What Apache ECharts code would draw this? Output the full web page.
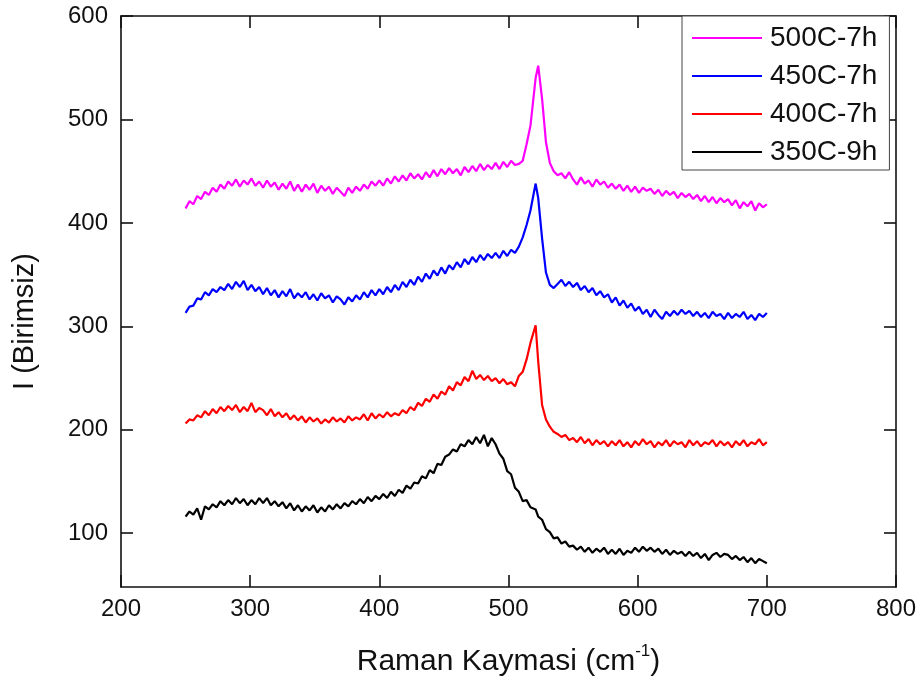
<!DOCTYPE html>
<html>
<head>
<meta charset="utf-8">
<script src="https://cdn.jsdelivr.net/npm/echarts@6/dist/echarts.min.js"></script>
<style>
html,body{margin:0;padding:0;background:#fff;}
#chart{width:923px;height:686px;}
</style>
</head>
<body>
<div id="chart"></div>
<script>
// Raman shift sample positions (cm^-1)
const ramanShift = [
250,253,256,259,262,265,268,271,274,277,
280,283,286,289,292,295,298,301,304,307,
310,313,316,319,322,325,328,331,334,337,
340,343,346,349,352,355,358,361,364,367,
370,373,376,379,382,385,388,391,394,397,
400,403,406,409,412,415,418,421,424,427,
430,433,436,439,442,445,448,451,454,457,
460,463,466,469,472,475,478,481,484,487,
490,493,496,499,502,505,508,511,514,517,
521,523,526,529,532,535,538,541,544,547,
550,553,556,559,562,565,568,571,574,577,
580,583,586,589,592,595,598,601,604,607,
610,613,616,619,622,625,628,631,634,637,
640,643,646,649,652,655,658,661,664,667,
670,673,676,679,682,685,688,691,694,697,
700
];

const s500C7h = [
414,421,418,426,423,430,427,434,430,437,
433,440,436,442,435,441,437,443,436,440,
434,441,435,439,432,438,433,440,431,437,
430,437,432,438,429,436,431,435,428,434,
430,426,434,429,435,431,437,433,440,436,
441,436,443,438,445,440,446,441,448,443,
447,442,449,444,451,445,452,447,453,448,
452,446,454,449,455,450,457,451,456,452,
458,452,459,454,460,456,457,460,476,494,
540,552,520,478,458,450,446,448,443,449,
442,437,444,438,441,435,442,437,440,434,
438,433,437,431,436,430,435,429,434,431,
433,428,432,426,431,427,430,424,429,425,
428,423,427,421,426,420,425,419,424,420,
423,417,422,414,420,416,421,412,419,415,
418
];

const s450C7h = [
313,319,320,327,326,333,330,336,333,338,
335,341,336,343,338,344,335,340,334,338,
331,337,330,335,328,334,329,336,327,332,
328,333,326,331,325,332,327,330,323,329,
326,321,328,324,330,326,333,328,335,330,
336,331,338,333,340,335,343,338,345,340,
348,343,351,346,354,349,357,351,359,355,
362,357,365,360,367,362,369,364,370,366,
371,366,373,368,374,371,377,386,398,412,
438,424,385,352,340,337,341,345,339,343,
338,342,335,339,333,337,330,334,328,331,
323,328,320,325,318,322,315,319,312,316,
309,316,311,307,314,310,315,311,316,312,
315,310,314,309,313,308,314,310,312,307,
313,308,312,309,314,307,311,306,312,309,
313
];

const s400C7h = [
206,210,209,214,212,218,214,220,216,222,
218,223,219,224,217,222,218,226,217,221,
219,214,220,213,217,212,216,210,214,209,
213,207,212,208,211,206,210,207,212,208,
211,207,213,209,212,210,215,209,216,211,
215,212,217,213,216,214,219,216,222,219,
226,223,230,227,234,230,237,234,242,238,
246,243,251,247,257,249,253,248,252,247,
250,245,249,244,246,242,252,256,268,284,
301,266,224,210,203,198,196,193,195,190,
192,188,193,187,191,185,190,186,189,184,
189,185,190,184,188,183,189,185,191,186,
189,183,188,185,190,184,189,186,188,183,
190,185,189,184,188,186,190,184,189,185,
188,183,189,185,190,184,188,186,191,185,
188
];

const s350C9h = [
116,121,118,124,113,126,123,128,125,131,
127,132,128,134,129,133,127,132,128,134,
129,134,127,131,126,130,124,129,122,127,
121,126,122,127,120,125,121,127,123,128,
124,129,126,131,128,133,129,135,131,136,
133,138,134,140,136,142,139,146,143,149,
148,155,153,161,158,167,166,174,176,181,
179,186,184,190,186,193,187,195,184,192,
186,177,172,160,157,144,140,131,132,125,
123,116,113,104,101,95,96,90,92,87,
88,84,87,82,86,81,85,82,86,80,
84,80,85,79,83,81,86,82,87,83,
86,82,85,80,84,79,83,80,82,78,
82,78,81,76,80,74,79,81,77,80,
79,75,78,74,77,72,76,71,75,73,
71
];

const seriesNames = ['500C-7h','450C-7h','400C-7h','350C-9h'];
const seriesValues = [s500C7h, s450C7h, s400C7h, s350C9h];
const seriesColors = ['#ff00ff','#0000ff','#ff0000','#000000'];
const yTicks = [100,200,300,400,500,600];

const FONT = "'Liberation Sans', Arial, sans-serif";
const chart = echarts.init(document.getElementById('chart'), null, {renderer:'canvas'});

const axisLineStyle = {color:'#111', width:1.6};

chart.setOption({
  animation:false,
  backgroundColor:'#fff',
  grid:{left:121, right:27, top:16, bottom:99, containLabel:false},
  legend:{
    data:seriesNames.map((n,k) => ({name:n, icon:'rect', itemStyle:{color:seriesColors[k]}})),
    orient:'vertical',
    left:682, top:16,
    padding:[8,12,4,10],
    itemWidth:70, itemHeight:2, itemGap:10,
    backgroundColor:'#fff',
    borderColor:'#444', borderWidth:1,
    textStyle:{fontFamily:FONT, fontSize:28, color:'#111', padding:[0,0,0,3]}
  },
  xAxis:[{
    type:'value', min:200, max:800, interval:100, position:'bottom',
    name:'{a|Raman Kaymasi (cm}{s|-1}{a|)}',
    nameLocation:'middle', nameGap:56,
    nameTextStyle:{
      rich:{
        a:{fontFamily:FONT, fontSize:30, color:'#111', lineHeight:34, verticalAlign:'bottom'},
        s:{fontFamily:FONT, fontSize:17, color:'#111', lineHeight:34, verticalAlign:'top'}
      }
    },
    axisLine:{show:true, lineStyle:axisLineStyle},
    axisTick:{show:true, inside:true, length:12, lineStyle:axisLineStyle},
    axisLabel:{fontFamily:FONT, fontSize:24, color:'#111', margin:10},
    splitLine:{show:false}
  },{
    type:'value', min:200, max:800, interval:100, position:'top',
    axisLine:{show:true, lineStyle:axisLineStyle},
    axisTick:{show:true, inside:true, length:12, lineStyle:axisLineStyle},
    axisLabel:{show:false},
    splitLine:{show:false}
  }],
  yAxis:[{
    type:'value', min:48, max:600, position:'left',
    name:'I (Birimsiz)',
    nameLocation:'middle', nameGap:82, nameRotate:90,
    nameTextStyle:{fontFamily:FONT, fontSize:29, color:'#111', padding:[0,40,0,0]},
    axisLine:{show:true, lineStyle:axisLineStyle},
    axisTick:{show:true, inside:true, length:12, lineStyle:axisLineStyle, customValues:yTicks},
    axisLabel:{fontFamily:FONT, fontSize:24, color:'#111', margin:13, customValues:yTicks},
    splitLine:{show:false}
  },{
    type:'value', min:48, max:600, position:'right',
    axisLine:{show:true, lineStyle:axisLineStyle},
    axisTick:{show:true, inside:true, length:12, lineStyle:axisLineStyle, customValues:yTicks},
    axisLabel:{show:false, customValues:yTicks},
    splitLine:{show:false}
  }],
  series: seriesNames.map((name, k) => ({
    name:name,
    type:'line',
    xAxisIndex:0, yAxisIndex:0,
    symbol:'none',
    showSymbol:false,
    smooth:false,
    data: ramanShift.map((x,i) => [x, seriesValues[k][i]]),
    lineStyle:{color:seriesColors[k], width:2.2},
    itemStyle:{color:seriesColors[k]},
    z: 10 - k
  }))
});
</script>
</body>
</html>
